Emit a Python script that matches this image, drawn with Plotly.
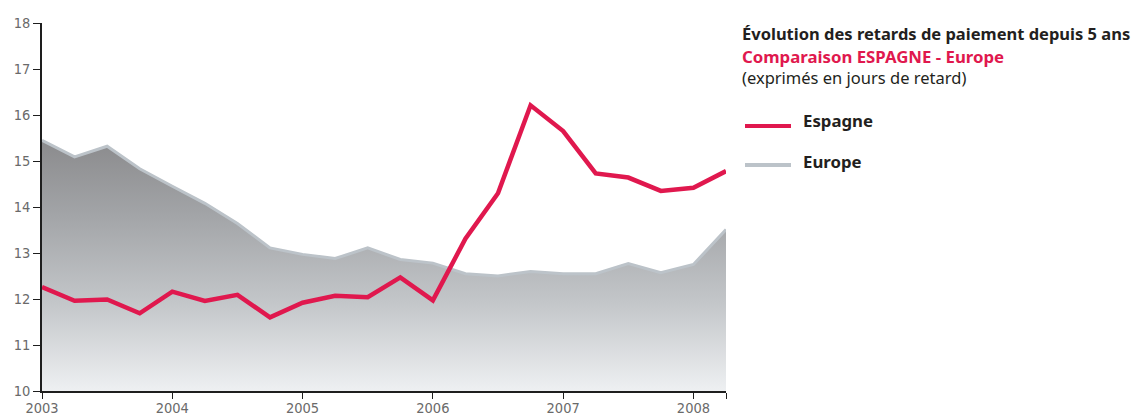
import plotly.graph_objects as go

# Quarterly observations, 2003 Q1 .. 2008 Q2 (days of payment delay)
quarters = [2003 + q / 4 for q in range(22)]
espagne = [12.26, 11.96, 11.99, 11.69, 12.16, 11.96, 12.09, 11.60, 11.92, 12.07, 12.04, 12.47,
           11.97, 13.31, 14.30, 16.21, 15.65, 14.73, 14.64, 14.35, 14.42, 14.78]
europe = [15.45, 15.09, 15.32, 14.83, 14.45, 14.08, 13.64, 13.11, 12.97, 12.88, 13.11, 12.86,
          12.78, 12.55, 12.50, 12.60, 12.55, 12.55, 12.77, 12.57, 12.75, 13.51]

year_ticks = [2003, 2004, 2005, 2006, 2007, 2008]
y_ticks = list(range(10, 19))

title_main = "Évolution des retards de paiement depuis 5 ans"
title_sub = "Comparaison ESPAGNE - Europe"
title_unit = "(exprimés en jours de retard)"
series_names = ["Espagne", "Europe"]

RED = "#e0184e"
GREY_LINE = "#bcc3c9"
AXIS = "#1e1e1e"
TICK_FONT = dict(family="Liberation Sans Narrow, DejaVu Sans Condensed, sans-serif", size=14.5, color="#6a6a6a")
TEXT_FONT = "Noto Sans, Open Sans, sans-serif"

W, H = 1136, 416
L, R, T, B = 42, 410, 23, 25
x_end = 2008.25

fig = go.Figure()

fig.add_trace(go.Scatter(
    x=quarters, y=europe, mode="lines", name=series_names[1],
    line=dict(color=GREY_LINE, width=3),
    fill="tozeroy",
    fillgradient=dict(type="vertical", start=10, stop=15.5,
                      colorscale=[[0, "#eef0f2"], [0.35, "#c3c6c9"], [0.7, "#a2a4a7"], [1, "#8a8a8c"]]),
    hoverinfo="skip", showlegend=False,
))

fig.add_trace(go.Scatter(
    x=quarters, y=espagne, mode="lines", name=series_names[0],
    line=dict(color=RED, width=4.5), showlegend=False,
))


def px_x(p):
    return (p - L) / (W - L - R)


def px_y(p):
    return (H - B - p) / (H - T - B)


annotations = [
    dict(text=f"<b>{title_main}</b>", x=px_x(740), y=px_y(33), font=dict(size=16.5, color="#231f20")),
    dict(text=f"<b>{title_sub}</b>", x=px_x(740), y=px_y(56), font=dict(size=16.8, color=RED)),
    dict(text=title_unit, x=px_x(740), y=px_y(77), font=dict(size=16.5, color="#231f20")),
    dict(text=f"<b>{series_names[0]}</b>", x=px_x(801), y=px_y(121), font=dict(size=16.8, color="#231f20")),
    dict(text=f"<b>{series_names[1]}</b>", x=px_x(801), y=px_y(161), font=dict(size=16.8, color="#231f20")),
]
for a in annotations:
    a.update(xref="paper", yref="paper", xanchor="left", yanchor="middle", showarrow=False)
    a["font"]["family"] = TEXT_FONT

shapes = [
    dict(type="line", xref="paper", yref="paper", x0=px_x(745), x1=px_x(791), y0=px_y(126), y1=px_y(126),
         line=dict(color=RED, width=4)),
    dict(type="line", xref="paper", yref="paper", x0=px_x(745), x1=px_x(791), y0=px_y(165), y1=px_y(165),
         line=dict(color=GREY_LINE, width=4)),
]

fig.update_layout(
    width=W, height=H,
    margin=dict(l=L, r=R, t=T, b=B, autoexpand=False),
    paper_bgcolor="white", plot_bgcolor="white",
    annotations=annotations, shapes=shapes,
    showlegend=False,
)

fig.update_xaxes(
    range=[2003, x_end], showgrid=False, zeroline=False, automargin=False,
    showline=True, linecolor=AXIS, linewidth=1.5,
    ticks="outside", ticklen=6, tickwidth=1.3, tickcolor=AXIS,
    tickvals=year_ticks + [x_end], ticktext=[str(y) for y in year_ticks] + [""],
    tickfont=TICK_FONT, ticklabelstandoff=-3,
)
fig.update_yaxes(
    range=[10, 18], showgrid=False, zeroline=False, automargin=False,
    showline=True, linecolor=AXIS, linewidth=1.5,
    ticks="outside", ticklen=7, tickwidth=1.3, tickcolor=AXIS,
    tickvals=y_ticks, tickfont=TICK_FONT,
)

fig.write_html("out.html")
